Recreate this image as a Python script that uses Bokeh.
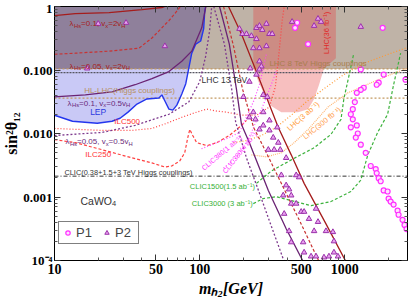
import math
from bokeh.plotting import figure
from bokeh.models import (Range1d, FixedTicker, LogAxis, CustomJSTickFormatter,
                          Legend, LegendItem)
from bokeh.core.properties import value
from bokeh.embed import file_html
from bokeh.resources import INLINE

# ---------------- axes ----------------
X_MIN, X_MAX = 10, 2700
Y_MIN, Y_MAX = 1e-4, 1.0
X_TICKS = [10, 50, 100, 500, 1000]
X_TICK_LABELS = ["10", "50", "100", "500", "1000"]
X_MINOR = [20, 30, 40, 60, 70, 80, 90, 200, 300, 400, 600, 700, 800, 900, 2000]
Y_TICKS = [1e-4, 1e-3, 1e-2, 1e-1, 1.0]
Y_TICK_LABELS = ["10⁻⁴", "0.001", "0.010", "0.100", "1"]
Y_MINOR = [k * 10.0 ** e for e in range(-4, 0) for k in range(2, 10)]
X_TITLE = "mₕ₂[GeV]"
Y_TITLE = "sin²θ₁₂"

# ---------------- horizontal limits ----------------
LHC8_LIMIT = 0.104
LHC13_LIMIT = 0.091
HLLHC_LIMIT = 0.036
CLIC_HIGGS_LIMIT = 0.00213

# ---------------- curves (m_h2 [GeV], sin^2 theta) ----------------
LEP_M = [10, 13.3, 19.7, 24.9, 28.3, 32.1, 37, 43.3, 52.4, 54.9, 57.6, 61.4, 65.3, 69.6, 75.3,
         80.2, 84.1, 88.2, 94, 101.6, 106.5, 108.2, 109.9]
LEP_S = [0.0194, 0.0156, 0.0145, 0.0156, 0.0174, 0.0217, 0.0291, 0.035, 0.0363, 0.0406, 0.0325,
         0.0242, 0.0233, 0.028, 0.042, 0.0608, 0.1057, 0.1837, 0.256, 0.286, 0.445, 0.80, 1.0]

L01_V2_A_M = [10, 13.9, 23.8, 40.1, 54.9, 57.6]
L01_V2_A_S = [0.72, 0.77, 0.80, 0.895, 0.964, 1.0]
L01_V2_B_M = [158, 194, 238, 288, 348, 427, 524, 741, 1016]
L01_V2_B_S = [1.0, 0.370, 0.1138, 0.0377, 0.01247, 0.00461, 0.00164, 0.000377, 0.0000963]

L005_V2_A_M = [10, 13.9, 23.8, 38.2, 46.9, 52.4, 56.6, 61.4, 67.5, 71.8, 74]
L005_V2_A_S = [0.177, 0.184, 0.198, 0.221, 0.319, 0.413, 0.497, 0.597, 0.773, 0.929, 1.0]
L005_V2_B_M = [146, 171, 197, 235, 288, 365, 500, 664]
L005_V2_B_S = [1.0, 0.238, 0.0506, 0.0125, 0.00497, 0.00164, 0.000377, 0.0000963]

L01_V05_A_M = [10, 16.3, 24.9, 35.9, 46.9, 61.4, 75.3, 88.2, 103.3, 109.9, 110.5]
L01_V05_A_S = [0.0377, 0.0406, 0.0453, 0.0586, 0.0731, 0.0946, 0.137, 0.198, 0.461, 0.964, 1.0]
L01_V05_B_M = [137, 160, 179, 194, 220, 297, 395, 516]
L01_V05_B_S = [1.0, 0.256, 0.0506, 0.0139, 0.00718, 0.00127, 0.000313, 0.0000963]

L005_V05_A_M = [10, 21.3, 35.9, 61.4, 84.1, 100, 109.9, 117, 121]
L005_V05_A_S = [0.00929, 0.0104, 0.0134, 0.0201, 0.0313, 0.0655, 0.164, 0.413, 1.0]
L005_V05_B_M = [125, 148, 166, 177, 210, 254, 311, 382]
L005_V05_B_S = [1.0, 0.256, 0.0506, 0.015, 0.00413, 0.00127, 0.00035, 0.0000963]

ILC500_M = [10, 21.3, 34.2, 46.9, 59.4, 75.3, 95.3, 112, 131, 153, 194, 246, 302, 332, 353, 370, 382]
ILC500_S = [0.0120, 0.0112, 0.0112, 0.0120, 0.0145, 0.0180, 0.0217, 0.0242, 0.0225, 0.0217,
            0.0194, 0.0194, 0.0261, 0.0545, 0.198, 0.597, 1.0]

ILC250_M = [10, 13.9, 21.3, 34.2, 46.9, 57.6, 64.3, 72.9, 78.9, 82.8, 85.5, 89.6, 95.3, 112,
            131, 160, 194, 210]
ILC250_S = [0.00802, 0.00718, 0.00555, 0.00413, 0.00344, 0.00296, 0.00308, 0.0037, 0.00497,
            0.00863, 0.0116, 0.00929, 0.00718, 0.00643, 0.00718, 0.00929, 0.0134, 0.0161]

LHC3AB_M = [171, 210, 266, 336, 427, 541, 718, 984, 1349, 1910, 2617]
LHC3AB_S = [0.00718, 0.00773, 0.00929, 0.0125, 0.0194, 0.0313, 0.0506, 0.0847, 0.127, 0.171, 0.221]
LHC300_M = [227, 288, 365, 448, 558, 765, 1049, 1581, 2234, 2700]
LHC300_S = [0.00461, 0.00429, 0.00497, 0.00718, 0.0116, 0.0261, 0.0437, 0.0655, 0.0912, 0.106]

CLIC1500_M = [246, 311, 427, 614, 801, 940, 984, 1064, 1153]
CLIC1500_S = [0.00164, 0.00256, 0.00384, 0.00597, 0.00964, 0.0167, 0.035, 0.0787, 0.184]
CLIC3000_M = [234, 274, 336, 427, 585, 801, 1099, 1287, 1439, 1683, 1970, 2166, 2421]
CLIC3000_S = [0.000787, 0.000946, 0.00101, 0.000879, 0.000731, 0.000847, 0.00122, 0.00184,
              0.00461, 0.0104, 0.0201, 0.0586, 0.184]

CLIC380_1_M = [103, 131, 160, 188, 234, 258, 274, 288]
CLIC380_1_S = [0.00575, 0.00718, 0.00863, 0.0104, 0.0313, 0.0586, 0.106, 0.177]
CLIC380_4_M = [146, 179, 210, 227, 274, 311, 336]
CLIC380_4_S = [0.00286, 0.00413, 0.00718, 0.0104, 0.028, 0.0586, 0.0946]

LHC36_M = [234, 234, 254, 279, 311, 365, 476, 558, 614, 664, 718, 867, 867]
LHC36_S = [1.0, 0.106, 0.0655, 0.0406, 0.027, 0.0217, 0.0217, 0.0242, 0.035, 0.0586, 0.106, 0.153, 1.0]

# ---------------- benchmark points ----------------
P1_M = [469, 454, 558, 1821, 1287, 1850, 2617, 1710, 1657, 1349, 1287, 1208, 1171, 1134, 1099,
        1134, 1099, 1208, 1227, 1189, 1287, 1392, 1507, 1631, 1657, 1710, 1765, 1850, 1970, 2001,
        2066, 2166, 2307, 2344, 2496, 2576, 2659]
P1_S = [0.555, 0.461, 0.256, 0.461, 0.102, 0.0847, 0.0705, 0.0631, 0.0586, 0.0525, 0.0488,
        0.0437, 0.0313, 0.0242, 0.0201, 0.0167, 0.0125, 0.0134, 0.01, 0.00863, 0.00667, 0.00497,
        0.00308, 0.00275, 0.00238, 0.00198, 0.00177, 0.00127, 0.00122, 0.000946, 0.000847,
        0.000759, 0.000608, 0.000525, 0.000437, 0.000363, 0.000313]
P2_M = [20.0, 31.1, 57.6, 16.8, 188, 197, 210, 227, 246, 258, 270, 288, 302, 316, 246, 234, 258,
        288, 258, 266, 223, 246, 433, 653, 685, 614, 1287, 220, 258, 200, 274, 292, 234, 220, 242,
        274, 302, 258, 302, 274, 342, 321, 348, 394, 326, 359, 297, 365, 462, 484, 394, 413, 427,
        376, 427, 462, 382, 500, 524, 633, 566, 653, 413, 614, 741, 827, 427, 516, 841, 524, 585,
        633, 718, 777, 841, 896]
P2_S = [0.535, 0.555, 0.238, 0.106, 0.445, 0.370, 0.370, 0.344, 0.461, 0.497, 0.429, 0.535,
        0.370, 0.370, 0.308, 0.221, 0.221, 0.238, 0.137, 0.114, 0.106, 0.0847, 0.575, 0.643,
        0.575, 0.497, 0.479, 0.0655, 0.102, 0.0377, 0.0406, 0.0377, 0.0217, 0.0180, 0.0167,
        0.0217, 0.0161, 0.0116, 0.0112, 0.0134, 0.0125, 0.00863, 0.00718, 0.00413, 0.00555,
        0.00555, 0.00555, 0.00221, 0.00221, 0.00205, 0.00153, 0.00132, 0.00106, 0.00106,
        0.000787, 0.000787, 0.000545, 0.000586, 0.000586, 0.000655, 0.000453, 0.000406,
        0.000291, 0.000291, 0.000291, 0.000281, 0.000194, 0.000194, 0.000201, 0.000134,
        0.000116, 0.000116, 0.000112, 0.000116, 0.000134, 0.000116]

# ---------------- figure ----------------
p = figure(width=409, height=300, x_axis_type="log", y_axis_type="log",
           x_range=Range1d(X_MIN, X_MAX), y_range=Range1d(Y_MIN, Y_MAX),
           output_backend="svg", toolbar_location=None,
           min_border_left=50, min_border_right=2, min_border_top=6, min_border_bottom=40,
           background_fill_color="white", border_fill_color="white")
p.grid.visible = False
p.outline_line_color = "black"
p.outline_line_width = 1


def fmt(tick_vals, tick_labels):
    return CustomJSTickFormatter(args=dict(tv=tick_vals, tl=tick_labels), code="""
for (let i = 0; i < tv.length; i++) {
  if (Math.abs(Math.log10(tick) - Math.log10(tv[i])) < 1e-6) return tl[i];
}
return "";
""")


def style_axis(ax, show, size="13px"):
    ax.major_tick_in = 6
    ax.major_tick_out = 0
    ax.minor_tick_in = 3
    ax.minor_tick_out = 0
    ax.axis_line_color = "black"
    ax.major_tick_line_color = "#333333"
    ax.minor_tick_line_color = "#555555"
    if show:
        ax.major_label_text_font = "Liberation Serif"
        ax.major_label_text_font_style = "bold"
        ax.major_label_text_font_size = size
        ax.major_label_text_color = "black"
        ax.axis_label_text_color = "black"
    else:
        ax.major_label_text_font_size = "0px"
        ax.major_label_standoff = 0


xa, ya = p.xaxis[0], p.yaxis[0]
xa.ticker = FixedTicker(ticks=X_TICKS, minor_ticks=X_MINOR)
xa.formatter = fmt(X_TICKS, X_TICK_LABELS)
xa.major_label_standoff = 3
style_axis(xa, True, "14px")
xa.axis_label = X_TITLE
xa.axis_label_text_font = "Liberation Serif"
xa.axis_label_text_font_style = "bold italic"
xa.axis_label_text_font_size = "16px"
xa.axis_label_standoff = 3

ya.ticker = FixedTicker(ticks=Y_TICKS, minor_ticks=Y_MINOR)
ya.formatter = fmt(Y_TICKS, Y_TICK_LABELS)
ya.major_label_standoff = 2
style_axis(ya, True, "13px")
ya.axis_label = Y_TITLE
ya.axis_label_text_font = "Liberation Serif"
ya.axis_label_text_font_style = "bold"
ya.axis_label_text_font_size = "16px"
ya.axis_label_standoff = 0

rax = LogAxis(ticker=FixedTicker(ticks=Y_TICKS, minor_ticks=Y_MINOR), formatter=fmt(Y_TICKS, [""] * 5))
style_axis(rax, False)
p.add_layout(rax, "right")
tax = LogAxis(ticker=FixedTicker(ticks=X_TICKS, minor_ticks=X_MINOR), formatter=fmt(X_TICKS, [""] * 5))
style_axis(tax, False)
p.add_layout(tax, "above")

# ---------------- shaded regions ----------------
p.patch([X_MIN, X_MAX, X_MAX, X_MIN], [LHC8_LIMIT, LHC8_LIMIT, Y_MAX, Y_MAX],
        fill_color="#BFB3A7", line_color=None)
p.patch(LEP_M + [LEP_M[-1], X_MIN], LEP_S + [Y_MAX, Y_MAX], fill_color="#C9C9F6", line_color=None)
p.patch(LEP_M + [LEP_M[-1], X_MIN], [max(s, LHC8_LIMIT) for s in LEP_S] + [Y_MAX, Y_MAX],
        fill_color="#8F809B", line_color=None)
p.patch(LHC36_M, LHC36_S, fill_color="#E63C3C", fill_alpha=0.33, line_color=None)

# ---------------- horizontal limits ----------------
p.line([X_MIN, X_MAX], [LHC8_LIMIT, LHC8_LIMIT], line_color="#C49A62", line_width=1.4, line_dash="2 2")
p.line([X_MIN, X_MAX], [LHC13_LIMIT, LHC13_LIMIT], line_color="#555560", line_width=1.4, line_dash="2 1")
p.line([X_MIN, X_MAX], [HLLHC_LIMIT, HLLHC_LIMIT], line_color="#C49A62", line_width=1.4, line_dash="2 2")
p.line([X_MIN, X_MAX], [CLIC_HIGGS_LIMIT, CLIC_HIGGS_LIMIT], line_color="#333333", line_width=1,
       line_dash="4 2 1 2")

# ---------------- collider curves ----------------
p.line(ILC500_M, ILC500_S, line_color="#FF4040", line_width=1.2, line_dash="1 2")
p.line(ILC250_M, ILC250_S, line_color="#FF4040", line_width=1.2, line_dash="3 2")
p.line(LHC3AB_M, LHC3AB_S, line_color="#FF9933", line_width=1.2, line_dash="1 2")
p.line(LHC300_M, LHC300_S, line_color="#FFB470", line_width=1.2, line_dash="1 1")
p.line(CLIC1500_M, CLIC1500_S, line_color="#3DB23D", line_width=1.2, line_dash="3 2")
p.line(CLIC3000_M, CLIC3000_S, line_color="#3DB23D", line_width=1.2, line_dash="3 2")
p.line(CLIC380_1_M, CLIC380_1_S, line_color="#FF44FF", line_width=1.2, line_dash="1 2")
p.line(CLIC380_4_M, CLIC380_4_S, line_color="#FF44FF", line_width=1.2, line_dash="1 2")
p.line(LEP_M, LEP_S, line_color="#2436EE", line_width=1.4)

# ---------------- model contours ----------------
for m, s in [(L01_V2_A_M, L01_V2_A_S), (L01_V2_B_M, L01_V2_B_S)]:
    p.line(m, s, line_color="#A51C1C", line_width=1.3)
for m, s in [(L005_V2_A_M, L005_V2_A_S), (L005_V2_B_M, L005_V2_B_S)]:
    p.line(m, s, line_color="#C83232", line_width=1.2, line_dash="3 2")
for m, s in [(L01_V05_A_M, L01_V05_A_S), (L01_V05_B_M, L01_V05_B_S)]:
    p.line(m, s, line_color="#6A2373", line_width=1.3)
for m, s in [(L005_V05_A_M, L005_V05_A_S), (L005_V05_B_M, L005_V05_B_S)]:
    p.line(m, s, line_color="#7E3A8E", line_width=1.3, line_dash="2 2")

# ---------------- points ----------------
r1 = p.scatter(P1_M, P1_S, marker="circle", size=5, line_color="#FF30FF", line_width=1.2,
               fill_color="#FFE0FF")
r2 = p.scatter(P2_M, P2_S, marker="triangle", size=5.5, line_color="#9A30AA", line_width=1,
               fill_color="#E8A0EE")

legend = Legend(items=[LegendItem(label="P1", renderers=[r1]), LegendItem(label="P2", renderers=[r2])],
                orientation="horizontal", location=(4, 16), border_line_color="black",
                border_line_width=1.2, background_fill_color="white", background_fill_alpha=1,
                label_text_font="Liberation Sans", label_text_font_size="13px",
                glyph_width=11, glyph_height=11, label_standoff=3, spacing=5, padding=3, margin=0)
p.add_layout(legend)

# ---------------- texts (text glyphs) ----------------
W = {' ': 278, '(': 333, ')': 333, '+': 584, ',': 278, '-': 333, '.': 278, '=': 584, '[': 278,
     ']': 278, 'A': 667, 'C': 722, 'E': 667, 'G': 778, 'H': 722, 'I': 278, 'L': 556, 'O': 778,
     'P': 667, 'T': 611, 'V': 667, 'W': 944, 'a': 556, 'b': 556, 'c': 500, 'e': 556, 'f': 278,
     'g': 556, 'h': 556, 'i': 222, 'l': 222, 'm': 833, 'n': 556, 'o': 556, 'p': 556, 's': 500,
     'u': 556, 'v': 500, 'x': 500, 'λ': 556, '⁻': 333, '¹': 333}


def tw(s, size):
    return sum(W.get(c, 556) for c in s) * size / 1000.0


def txt(x, y, t, color, size, angle=0.0, align="left", dx=0.0, dy=0.0, font="Liberation Sans",
        style="normal"):
    p.text(x=[x], y=[y], text=[t], text_color=color, text_font=value(font),
           text_font_style=style, text_font_size=value(f"{size}px"), angle=angle,
           text_align=align, text_baseline="middle", x_offset=dx, y_offset=dy)


def rich(x, y, segs, color):
    off = 0.0
    for t, size, dy in segs:
        txt(x, y, t, color, size, dx=off, dy=dy)
        off += tw(t, size)


def lam_label(x, y, lam, vx, color):
    b, s = 8, 5.8
    rich(x, y, [("λ", b, 0), ("Hs", s, 2), (f"={lam}, v", b, 0), ("x", s, 2),
                (f"={vx}v", b, 0), ("H", s, 2)], color)


lam_label(12.7, 0.535, "0.1", "2", "#A52020")
lam_label(12.7, 0.114, "0.05", "2", "#A52020")
lam_label(12.3, 0.0302, "0.1", "0.5", "#6A2A7A")
lam_label(11.9, 0.00745, "0.05", "0.5", "#6A2A7A")
rich(15.1, 0.000879, [("CaWO", 10.5, 0), ("4", 7.5, 3)], "#333333")

PLAIN_LABELS = [
    ("LEP", 17.6, 0.0217, "#2B3BE0", 8.5),
    ("ILC500", 25.8, 0.0156, "#FF3333", 8),
    ("ILC250", 16.3, 0.00461, "#FF3333", 8),
    ("HL-LHC(Higgs couplings)", 16.0, 0.047, "#B89060", 8),
    ("LHC 13 TeV", 103, 0.0705, "#333333", 8.5),
    ("LHC 8 TeV Higgs couplings", 302, 0.127, "#A87E4E", 8),
    ("CLIC(0.38+1.5+3 TeV Higgs couplings)", 11.7, 0.00247, "#333333", 7.4),
    ("CLIC1500(1.5 ab⁻¹)", 85.5, 0.00147, "#35B035", 7.5),
    ("CLIC3000 (3 ab⁻¹)", 88.2, 0.000787, "#35B035", 7.5),
]
for t, x, y, c, fs in PLAIN_LABELS:
    txt(x, y, t, c, fs)

ROT_LABELS = [
    ("CLIC380(1 ab⁻¹)", 142, 0.00497, "#FF33FF", 40, 7),
    ("CLIC380(4 ab⁻¹)", 188, 0.00497, "#FF33FF", 52, 7),
    ("LHC(3 ab⁻¹)", 516, 0.0187, "#FF9933", 41, 7.5),
    ("LHC(300 fb⁻¹)", 695, 0.0145, "#FFA050", 39, 7.5),
    ("LHC(36 fb⁻¹)", 753, 0.384, "#E02828", 90, 7.5),
]
for t, x, y, c, ang, fs in ROT_LABELS:
    txt(x, y, t, c, fs, angle=math.radians(ang), align="center")

open("out.html", "w").write(file_html(p, INLINE))
